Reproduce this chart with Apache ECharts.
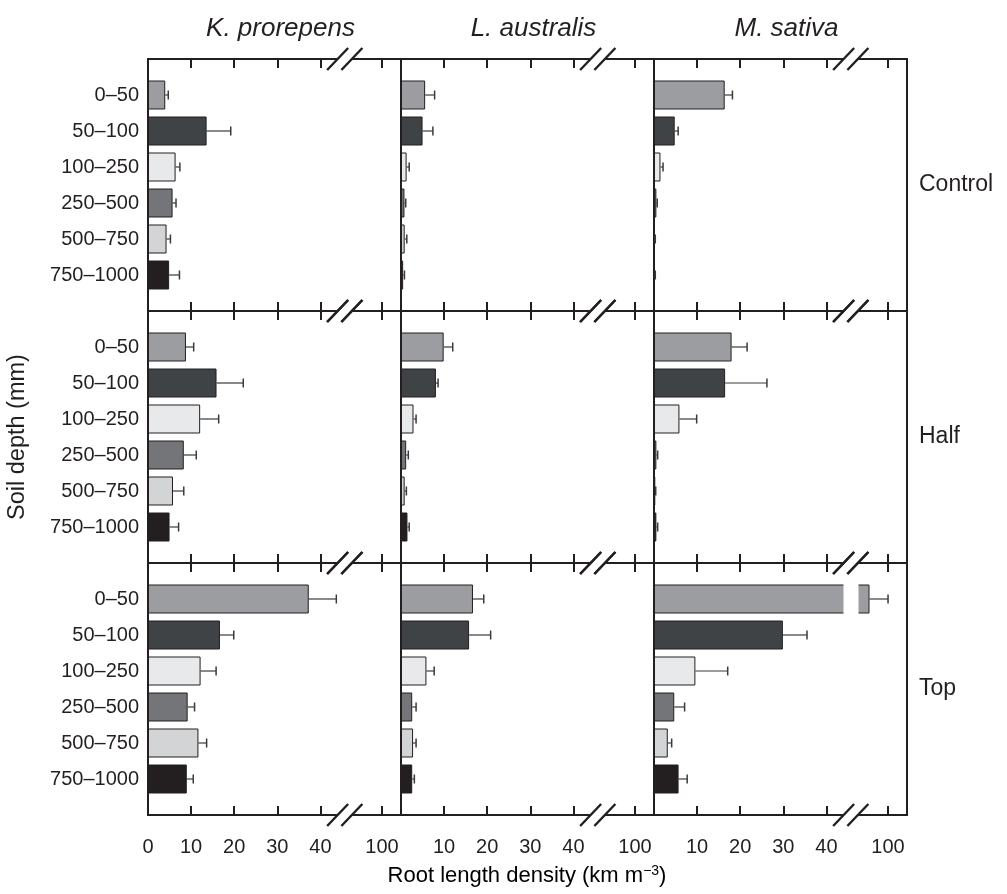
<!DOCTYPE html>
<html><head><meta charset="utf-8">
<script src="https://cdn.jsdelivr.net/npm/echarts@6/dist/echarts.min.js"></script>
<style>html,body{margin:0;padding:0;background:#fff}#c{width:1007px;height:894px}</style>
</head><body><div id="c"></div>
<script>
// ---------- data ----------
const categories = ['0–50', '50–100', '100–250', '250–500', '500–750', '750–1000'];
const species = ['K. prorepens', 'L. australis', 'M. sativa'];
const treatments = ['Control', 'Half', 'Top'];
const tickValues = [0, 10, 20, 30, 40, 100];

const control_K = [4.0, 13.6, 6.4, 5.7, 4.3, 4.9];
const control_K_err = [0.7, 5.6, 1.0, 0.8, 0.9, 2.4];
const control_L = [5.6, 5.0, 1.3, 0.8, 0.85, 0.5];
const control_L_err = [2.2, 2.4, 0.6, 0.3, 0.5, 0.3];
const control_M = [16.4, 4.8, 1.5, 0.55, 0.2, 0.2];
const control_M_err = [1.8, 0.8, 0.6, 0.2, 0.1, 0.1];

const half_K = [8.8, 15.9, 12.1, 8.3, 5.8, 5.0];
const half_K_err = [1.8, 6.2, 4.3, 2.9, 2.5, 2.1];
const half_L = [9.9, 8.1, 2.9, 1.2, 0.85, 1.5];
const half_L_err = [2.1, 0.5, 0.6, 0.5, 0.4, 0.4];
const half_M = [18.0, 16.5, 5.9, 0.55, 0.3, 0.55];
const half_M_err = [3.6, 9.7, 4.0, 0.3, 0.1, 0.3];

const top_K = [37.3, 16.7, 12.2, 9.2, 11.7, 9.0];
const top_K_err = [6.4, 3.2, 3.6, 1.6, 1.9, 1.5];
const top_L = [16.7, 15.8, 5.9, 2.6, 2.8, 2.6];
const top_L_err = [2.5, 5.0, 1.8, 0.9, 0.7, 0.5];
const top_M = [95.7, 29.9, 9.6, 4.7, 3.2, 5.7];
const top_M_err = [4.3, 5.6, 7.5, 2.4, 0.9, 2.0];

// axis break (value axis config)
const axisMin = 0, axisMax = 104.4;
const breakStart = 44, breakEnd = 93, breakGap = 3.3;

// ---------- style ----------
const barColors = ['#9c9da1', '#404345', '#e8e9eb', '#737578', '#d3d4d6', '#231f20'];
const INK = '#231f20';
const FONT = '"Liberation Sans", Arial, Helvetica, sans-serif';
const L = { colLeft: [148, 401, 654], panelW: 253, rowTop: [59, 311, 563], panelH: 252, inset: 18 };

const values = [[control_K, control_L, control_M], [half_K, half_L, half_M], [top_K, top_L, top_M]];
const errors = [[control_K_err, control_L_err, control_M_err], [half_K_err, half_L_err, half_M_err], [top_K_err, top_L_err, top_M_err]];

function renderErr(params, api) {
  const v = api.value(0), i = api.value(1), e = api.value(2);
  const p0 = api.coord([v, i]);
  const p1 = api.coord([v + e, i]);
  return {
    type: 'group', children: [
      { type: 'line', shape: { x1: p0[0], y1: p0[1], x2: p1[0], y2: p1[1] }, style: { stroke: '#3a3a3a', lineWidth: 1.2 } },
      { type: 'line', shape: { x1: p1[0], y1: p1[1] - 4.5, x2: p1[0], y2: p1[1] + 4.5 }, style: { stroke: '#3a3a3a', lineWidth: 1.5 } }
    ]
  };
}

const grids = [], xAxes = [], yAxes = [], series = [];
const frameAxisIdx = [];
for (let r = 0; r < 3; r++) {
  for (let c = 0; c < 3; c++) {
    const left = L.colLeft[c], top = L.rowTop[r];
    const gF = grids.length;
    grids.push({ left: left, top: top, width: L.panelW, height: L.panelH, show: true, borderColor: INK, borderWidth: 2, backgroundColor: 'transparent' });
    const gB = grids.length;
    grids.push({ left: left, top: top + L.inset, width: L.panelW, height: L.panelH - 2 * L.inset });
    const xBase = {
      type: 'value', min: axisMin, max: axisMax,
      breaks: [{ start: breakStart, end: breakEnd, gap: breakGap }],
      splitLine: { show: false }, axisLine: { show: false }
    };
    const tick = { show: true, inside: true, length: 9, customValues: tickValues, lineStyle: { color: INK, width: 2 } };
    const fb = xAxes.length;
    xAxes.push(Object.assign({}, xBase, {
      gridIndex: gF, position: 'bottom', axisTick: tick,
      axisLabel: { show: r === 2, customValues: c === 0 ? tickValues : tickValues.slice(1), margin: 22, fontSize: 20, color: INK, fontFamily: FONT, formatter: function (v) { return String(v); } },
      breakArea: { show: false }
    }));
    xAxes.push(Object.assign({}, xBase, {
      gridIndex: gF, position: 'top', axisTick: tick, axisLabel: { show: false }, breakArea: { show: false }
    }));
    frameAxisIdx.push({ idx: fb, left: left, top: top });
    yAxes.push({ type: 'value', gridIndex: gF, show: false });
    const xb = xAxes.length;
    xAxes.push(Object.assign({}, xBase, {
      gridIndex: gB, axisTick: { show: false }, axisLabel: { show: false },
      breakArea: { show: true, itemStyle: { color: '#fff', borderColor: '#fff', borderWidth: 0, opacity: 1 }, zigzagAmplitude: 0, expandOnClick: false }
    }));
    const yb = yAxes.length;
    yAxes.push({
      type: 'category', gridIndex: gB, inverse: true, data: categories,
      axisLine: { show: false }, axisTick: { show: false },
      axisLabel: { show: c === 0, margin: 9, fontSize: 20, color: INK, fontFamily: FONT }
    });
    series.push({
      type: 'bar', xAxisIndex: xb, yAxisIndex: yb, barWidth: 29, silent: true,
      data: values[r][c].map(function (v, i) { return { value: v, itemStyle: { color: barColors[i] } }; }),
      itemStyle: { borderColor: INK, borderWidth: 1 }
    });
    series.push({
      type: 'custom', xAxisIndex: xb, yAxisIndex: yb, silent: true, z: 5,
      data: values[r][c].map(function (v, i) { return [v, i, errors[r][c][i]]; }),
      encode: { x: 0, y: 1 }, renderItem: renderErr
    });
  }
}

const chart = echarts.init(document.getElementById('c'), null, { renderer: 'canvas' });
chart.setOption({
  animation: false, backgroundColor: '#fff',
  grid: grids, xAxis: xAxes, yAxis: yAxes, series: series
});

// decorations: titles, labels, break marks
const g = [];
species.forEach(function (s, c) {
  g.push({ type: 'text', x: L.colLeft[c] + L.panelW / 2 + 6, y: 29, style: { text: s, font: 'italic 26px ' + FONT, fill: INK, textAlign: 'center', textVerticalAlign: 'middle' } });
});
treatments.forEach(function (t, r) {
  g.push({ type: 'text', x: 919, y: L.rowTop[r] + L.panelH / 2, style: { text: t, font: '23px ' + FONT, fill: INK, textAlign: 'left', textVerticalAlign: 'middle' } });
});
g.push({ type: 'text', x: 18, y: 437, rotation: Math.PI / 2, style: { text: 'Soil depth (mm)', font: '23.5px ' + FONT, fill: INK, textAlign: 'center', textVerticalAlign: 'middle' } });
g.push({
  type: 'text', x: 527, y: 876, style: {
    text: '{a|Root length density (km m}{s|−3}{a|)}', textAlign: 'center', textVerticalAlign: 'middle',
    rich: { a: { fontSize: 22, fontFamily: FONT, color: INK }, s: { fontSize: 14, fontFamily: FONT, color: INK, verticalAlign: 'top', padding: [0, 0, 10, 0] } }
  }
});
frameAxisIdx.forEach(function (f) {
  const x1 = chart.convertToPixel({ xAxisIndex: f.idx }, breakStart);
  const x2 = chart.convertToPixel({ xAxisIndex: f.idx }, breakEnd);
  [f.top, f.top + L.panelH].forEach(function (y) {
    g.push({ type: 'rect', shape: { x: x1, y: y - 2, width: x2 - x1, height: 4 }, style: { fill: '#fff' }, z: 100 });
    [x1, x2].forEach(function (x) {
      g.push({ type: 'line', shape: { x1: x - 10.5, y1: y + 11, x2: x + 10.5, y2: y - 11 }, style: { stroke: INK, lineWidth: 2.4 }, z: 101 });
    });
  });
});
chart.setOption({ graphic: g });
</script>
</body></html>
